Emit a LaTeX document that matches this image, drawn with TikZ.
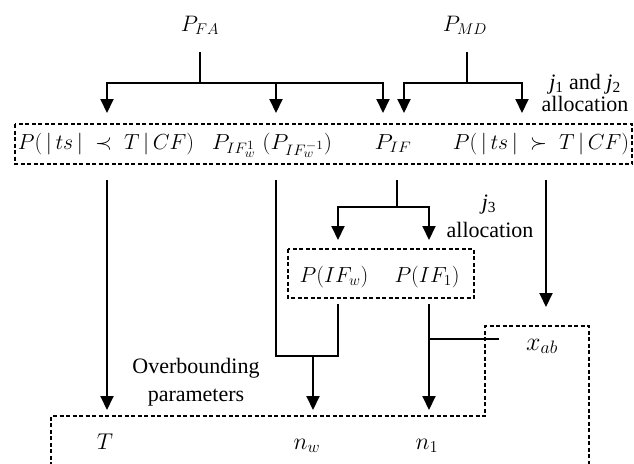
\documentclass[tikz,border=0pt]{standalone}
\usepackage{fontspec}
\setmainfont{Liberation Serif}
\usetikzlibrary{arrows.meta}
\begin{document}
\begin{tikzpicture}[x=1pt,y=-1pt,
  flow/.style={line width=2pt},
  flowarrow/.style={flow,-{Triangle[length=14pt,width=13pt]}},
  dashline/.style={line width=1.3pt,dash pattern=on 4pt off 2.5pt},
  mlabel/.style={font=\fontsize{20.74}{25}\selectfont,inner sep=0pt,anchor=base},
  tlabel/.style={font=\fontsize{22}{24}\selectfont,inner sep=0pt,anchor=base,
    text height=15pt,text depth=3pt}
]
\useasboundingbox (0,0) rectangle (634,463);

% sources
\node[mlabel] (PFA) at (200,31) {\scalebox{1.08}{$P_{FA}$}};
\node[mlabel] (PMD) at (465,31) {\scalebox{1.08}{$P_{MD}$}};

% first row of probabilities
\draw[dashline] (15,124) rectangle (632,164);
\node[mlabel] (plow) at (106,149) {\scalebox{1.05}{$P(\,|\,ts\,|\;\prec\;T\,|\,CF)$}};
\node[mlabel] (pw)   at (272,149) {\scalebox{1.12}[1.05]{$P_{IF_w^1}\;(P_{IF_w^{-1}})$}};
\node[mlabel] (pif)  at (393,149) {\scalebox{1.15}[1.05]{$P_{IF}$}};
\node[mlabel] (phigh) at (541,149) {\scalebox{1.05}{$P(\,|\,ts\,|\;\succ\;T\,|\,CF)$}};

% split of the fault probability
\draw[dashline] (288,249) rectangle (474,298);
\node[mlabel] (pifw) at (334,282) {\scalebox{1.05}{$P(IF_w)$}};
\node[mlabel] (pif1) at (427,282) {\scalebox{1.05}{$P(IF_1)$}};

% labels
\node[tlabel] (alloc12a) at (585,89) {\textit{j}\textsubscript{1} and \textit{j}\textsubscript{2}};
\node[tlabel] (alloc12b) at (585,111) {allocation};
\node[tlabel] (alloc3a) at (489,209) {\textit{j}\textsubscript{3}};
\node[tlabel] (alloc3b) at (490,237) {allocation};
\node[tlabel] (over1) at (196,373) {Overbounding};
\node[tlabel] (over2) at (196,401) {parameters};

% overbounding parameters
\node[mlabel] (T)  at (105,449) {\scalebox{1.1}{$T$}};
\node[mlabel] (nw) at (307,449) {\scalebox{1.15}{$n_w$}};
\node[mlabel] (n1) at (427,449) {\scalebox{1.15}{$n_1$}};
\node[mlabel] (xab) at (542,350) {\scalebox{1.25}{$x_{ab}$}};

% junction and end points
\coordinate (fa0) at (200,52);  \coordinate (fa1) at (200,83);
\coordinate (md0) at (467,52);  \coordinate (md1) at (467,83);
\coordinate (t1) at (107,113);  \coordinate (t2) at (276,113);
\coordinate (t3) at (383,113);  \coordinate (t4) at (404,113);
\coordinate (t5) at (522,113);
\coordinate (b1) at (107,180);  \coordinate (e1) at (107,410);
\coordinate (b2) at (276,180);  \coordinate (c2) at (276,356);
\coordinate (c3) at (338,356);  \coordinate (s1) at (338,304);
\coordinate (m1) at (313,356);  \coordinate (e2) at (313,410);
\coordinate (b3) at (397,180);  \coordinate (f3) at (397,207);
\coordinate (u1) at (338,240);  \coordinate (u2) at (429,240);
\coordinate (b4) at (546,180);  \coordinate (e4) at (546,307);
\coordinate (s2) at (429,304);  \coordinate (e3) at (429,410);
\coordinate (x0) at (429,339);  \coordinate (x1) at (499,339);

% allocation of P_FA and P_MD
\draw[flow] (fa0) -- (fa1);
\draw[flowarrow] (fa1) -| (t1);
\draw[flowarrow] (fa1) -| (t2);
\draw[flowarrow] (fa1) -| (t3);
\draw[flow] (md0) -- (md1);
\draw[flowarrow] (md1) -| (t4);
\draw[flowarrow] (md1) -| (t5);

% from the first row downwards
\draw[flowarrow] (b1) -- (e1);
\draw[flow] (b2) -- (c2) -- (c3) -- (s1);
\draw[flowarrow] (m1) -- (e2);
\draw[flow] (b3) -- (f3);
\draw[flowarrow] (f3) -| (u1);
\draw[flowarrow] (f3) -| (u2);
\draw[flowarrow] (b4) -- (e4);
\draw[flowarrow] (s2) -- (e3);
\draw[flow] (x0) -- (x1);

% outline of the overbounding parameters
\draw[dashline] (51,466) -- (51,416) -- (485,416) -- (485,326) -- (589,326) -- (589,466);
\end{tikzpicture}
\end{document}
